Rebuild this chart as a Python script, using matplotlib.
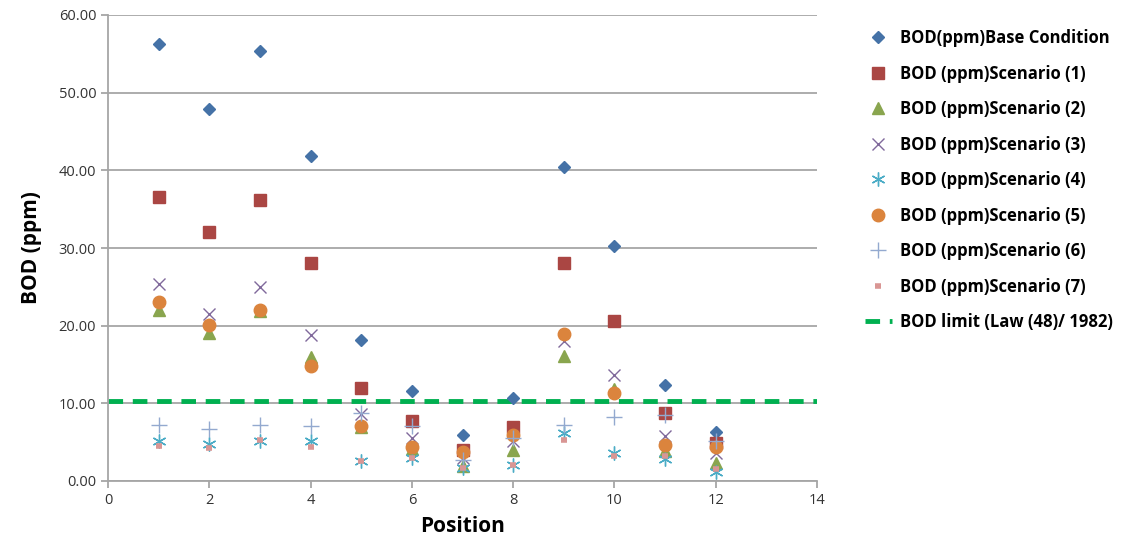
import numpy as np
import matplotlib.pyplot as plt

# ---------- data ----------
position = [1, 2, 3, 4, 5, 6, 7, 8, 9, 10, 11, 12]
base = [56.3, 47.9, 55.4, 41.8, 18.2, 11.6, 5.9, 10.7, 40.4, 30.3, 12.4, 6.3]
scen1 = [36.6, 32.1, 36.2, 28.1, 12.0, 7.7, 4.0, 7.0, 28.1, 20.6, 8.8, 4.9]
scen2 = [22.0, 19.0, 21.9, 16.0, 7.0, 4.1, 1.9, 4.0, 16.1, 11.9, 3.9, 2.3]
scen3 = [25.4, 21.5, 25.0, 18.8, 8.6, 5.5, 3.0, 5.2, 18.0, 13.6, 5.8, 3.6]
scen4 = [5.2, 4.8, 5.2, 5.2, 2.6, 3.0, 1.7, 2.1, 6.2, 3.6, 2.8, 1.2]
scen5 = [23.0, 20.1, 22.0, 14.8, 7.1, 4.4, 3.7, 5.9, 18.9, 11.3, 4.6, 4.4]
scen6 = [7.2, 6.7, 7.2, 7.1, 8.8, 7.1, 2.7, 5.5, 7.2, 8.2, 8.5, 5.2]
scen7 = [4.5, 4.2, 5.3, 4.4, 2.6, 3.0, 1.7, 2.1, 5.3, 3.2, 3.2, 1.5]
bod_limit = 10.3

labels = ['BOD(ppm)Base Condition', 'BOD (ppm)Scenario (1)', 'BOD (ppm)Scenario (2)',
          'BOD (ppm)Scenario (3)', 'BOD (ppm)Scenario (4)', 'BOD (ppm)Scenario (5)',
          'BOD (ppm)Scenario (6)', 'BOD (ppm)Scenario (7)']

plt.rcParams['font.family'] = ['Open Sans', 'DejaVu Sans']

fig = plt.figure(figsize=(11.22, 5.52), dpi=100)
ax = fig.add_axes([108/1122, 1-481/552, (817-108)/1122, (481-15)/552])

series = [base, scen1, scen2, scen3, scen4, scen5, scen6, scen7]
styles = [
    dict(marker='D', color='#4572A7', markersize=6.5),
    dict(marker='s', color='#AA4643', markersize=9),
    dict(marker='^', color='#89A54E', markersize=9),
    dict(marker='x', color='#80699B', markersize=9, markeredgewidth=1.0),
    dict(marker=(6, 2, 0), color='#4BACC6', markersize=10, markeredgewidth=1.0),
    dict(marker='o', color='#DB843D', markersize=9),
    dict(marker='+', color='#93A9CF', markersize=11, markeredgewidth=1.0),
    dict(marker='_', color='#D99694', markersize=5, markeredgewidth=4),
]
for vals, st, lab in zip(series, styles, labels):
    ax.plot(position, vals, linestyle='', label=lab, **st)

ax.axhline(bod_limit, color='#00B050', linestyle=(0, (3, 2)), linewidth=3.5,
           label='BOD limit (Law (48)/ 1982)', zorder=1)

ax.set_xlim(0, 14)
ax.set_ylim(0, 60)
ax.set_xticks(np.arange(0, 15, 2))
ax.set_yticks(np.arange(0, 61, 10))
ax.set_yticklabels(['%.2f' % v for v in np.arange(0, 61, 10)])
ax.yaxis.grid(True, color='#A6A6A6', linewidth=1.3)
ax.set_axisbelow(True)
for s in ['top', 'right']:
    ax.spines[s].set_visible(False)
for s in ['left', 'bottom']:
    ax.spines[s].set_color('#A6A6A6')
    ax.spines[s].set_linewidth(1.3)
ax.tick_params(axis='both', colors='#A6A6A6', labelcolor='#333333', labelsize=10.5,
               length=5, width=1.3)

ax.set_xlabel('Position', fontsize=15, fontweight='bold', labelpad=6)
ax.set_ylabel('BOD (ppm)', fontsize=15, fontweight='bold', labelpad=12)

fig.legend(loc='upper left', bbox_to_anchor=(850/1122, 1-14/552), frameon=False,
           prop=dict(size=12, weight='bold'), labelspacing=1.05, handlelength=1.6,
           handletextpad=0.5)

fig.savefig('out.png', dpi=100)
